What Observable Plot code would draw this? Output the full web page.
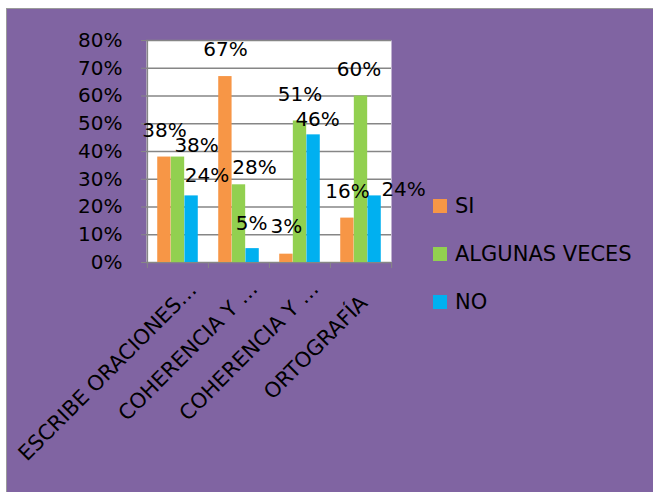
<!DOCTYPE html>
<html>
<head>
<meta charset="utf-8">
<script src="https://cdn.jsdelivr.net/npm/d3@7"></script>
<script src="https://cdn.jsdelivr.net/npm/@observablehq/plot@0.6"></script>
<style>
  html, body { margin: 0; padding: 0; background: #ffffff; width: 653px; height: 492px; overflow: hidden; }
  #wrap { position: absolute; left: 6px; top: 8px; width: 647px; height: 484px; background: #8064A2;
          border-left: 1px solid #9a9a9a; border-top: 1px solid #9a9a9a; }
  #chart { position: absolute; left: 0; top: 0; }
  #legend { position: absolute; left: 426px; top: 173px; font-family: "DejaVu Sans", sans-serif; font-size: 21px; color: #000; }
  .row { display: flex; align-items: center; height: 48px; }
  .sw { width: 14px; height: 14px; margin-right: 8px; }
  .lb { line-height: 1; }
</style>
</head>
<body>
<div id="wrap">
  <div id="chart"></div>
  <div id="legend"></div>
</div>
<script>
// ---- data ----
const tickLabels = ["ESCRIBE ORACIONES…", "COHERENCIA Y …", "COHERENCIA Y …", "ORTOGRAFÍA"];
const series = ["SI", "ALGUNAS VECES", "NO"];
const siValues = [38, 67, 3, 16];
const algunasValues = [38, 28, 51, 60];
const noValues = [24, 5, 46, 24];
const yTicks = [0, 10, 20, 30, 40, 50, 60, 70, 80];

// ---- styling / layout ----
const colors = ["#F79646", "#92D050", "#00B0F0"];
// manual label nudges [dx, dy] per series per category (as moved in the original)
const labelNudge = [
  [[0, 0], [0, -1], [0, -1], [0, 0]],
  [[18.6, 15], [15.4, 9], [0, 0], [-2, 0]],
  [[15.3, 6], [-1, 1], [4, 11], [29, 20]]
];
// per-category nudge of the rotated category labels [dx, dy]
const catLabelNudge = [[3, 2], [3, 1], [3, 1], [-9, 15]];
const W = 646, H = 483;
const mL = 139, mR = 262, mT = 31, mB = 230;
const bw = (W - mL - mR) / tickLabels.length;
const barW = 13.6;
const pad0 = (bw - 3 * barW) / 2;
const grid = "#868686";
const font = "DejaVu Sans";

const cats = tickLabels.map((_, i) => i);
const valueSets = [siValues, algunasValues, noValues];
const rows = [];
valueSets.forEach((vals, s) => vals.forEach((v, c) => rows.push({cat: c, s, value: v})));

const marks = [
  Plot.frame({fill: "white", stroke: "none"}),
  Plot.gridY(yTicks, {stroke: grid, strokeOpacity: 1, strokeWidth: 1.5}),
  Plot.ruleX([0], {dx: -bw / 2, stroke: grid, strokeWidth: 1.5}),
  Plot.axisY(yTicks, {tickSize: 5, tickPadding: 19, tickFormat: d => d + "%", fontSize: 20, stroke: grid, fill: "black", label: null}),
  Plot.axisX(cats, {tickSize: 6, tickFormat: () => "", dx: -bw / 2, stroke: grid, label: null}),
  Plot.axisX([cats[cats.length - 1]], {tickSize: 6, tickFormat: () => "", dx: bw / 2, stroke: grid, label: null})
];
cats.forEach(c => {
  const n = catLabelNudge[c];
  marks.push(Plot.axisX([c], {tickSize: 0, tickPadding: 22, tickRotate: -45, dx: 12 + n[0], dy: n[1],
    tickFormat: i => tickLabels[i], fontSize: 21, fill: "black", label: null}));
});
series.forEach((name, s) => {
  marks.push(Plot.barY(rows.filter(r => r.s === s), {
    x: "cat", y: "value", fill: colors[s],
    insetLeft: pad0 + s * barW, insetRight: bw - pad0 - (s + 1) * barW
  }));
});
rows.forEach(r => {
  const n = labelNudge[r.s][r.cat];
  marks.push(Plot.text([r], {
    x: "cat", y: "value", text: d => d.value + "%",
    dx: (r.s - 1) * barW + n[0], dy: -20 + n[1],
    lineAnchor: "bottom", fontSize: 20, fill: "black"
  }));
});

const chart = Plot.plot({
  width: W, height: H,
  marginLeft: mL, marginRight: mR, marginTop: mT, marginBottom: mB,
  style: {background: "transparent", fontFamily: font, color: "black", overflow: "visible"},
  x: {type: "band", domain: cats, padding: 0, label: null},
  y: {domain: [0, 80], label: null},
  marks
});
document.getElementById("chart").appendChild(chart);

const legend = document.getElementById("legend");
series.forEach((name, s) => {
  const row = document.createElement("div");
  row.className = "row";
  row.innerHTML = `<div class="sw" style="background:${colors[s]}"></div><span class="lb">${name}</span>`;
  legend.appendChild(row);
});
</script>
</body>
</html>
